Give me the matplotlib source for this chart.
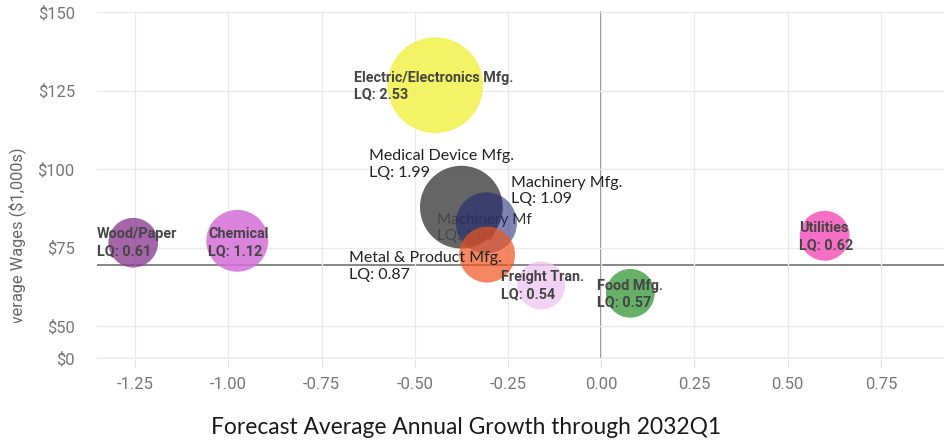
import matplotlib
matplotlib.use('Agg')
import matplotlib.pyplot as plt
from matplotlib.patches import Rectangle

# Data
industries = ['Wood/Paper', 'Chemical', 'Electric/Electronics Mfg.', 'Medical Device Mfg.',
              'Machinery Mfg.', 'Metal & Product Mfg.', 'Freight Tran.', 'Food Mfg.', 'Utilities']
growth = [-1.255, -0.976, -0.445, -0.375, -0.308, -0.306, -0.161, 0.078, 0.599]
wages = [76.6, 77.2, 126.7, 87.9, 82.9, 72.8, 63.0, 60.5, 78.8]
lq = [0.61, 1.12, 2.53, 1.99, 1.09, 0.87, 0.54, 0.57, 0.62]
avg_wage = 69.6

y_tick_values = [50, 75, 100, 125, 150]
x_tick_values = [-1.25, -1.00, -0.75, -0.50, -0.25, 0.00, 0.25, 0.50, 0.75]

# Styling
AXIS_BREAK_POS = 39.9  # where "$0" sits on the broken axis
colors = {
    'Wood/Paper': ('#8e3f94', 0.8),
    'Chemical': ('#d56fd9', 0.85),
    'Electric/Electronics Mfg.': ('#f2f24a', 0.85),
    'Medical Device Mfg.': ('#4a4a4a', 0.85),
    'Machinery Mfg.': ('#1a2070', 0.55),
    'Metal & Product Mfg.': ('#f05520', 0.7),
    'Freight Tran.': ('#f0c8f0', 0.8),
    'Food Mfg.': ('#4ca24c', 0.85),
    'Utilities': ('#f55ec0', 0.9),
}
# label offsets in pixels from bubble centre, and which font style
label_style = {
    'Wood/Paper': (-36, 0, 'bold'),
    'Chemical': (-29, -2, 'bold'),
    'Electric/Electronics Mfg.': (-81, -1, 'bold'),
    'Medical Device Mfg.': (-92, 43, 'plain'),
    'Machinery Mfg.': (25, 32, 'plain'),
    'Metal & Product Mfg.': (-138, -12, 'plain'),
    'Freight Tran.': (-40, 0, 'bold'),
    'Food Mfg.': (-33, -1, 'bold'),
    'Utilities': (-26, -1, 'bold'),
}

W, H = 944, 442
fig = plt.figure(figsize=(W / 100, H / 100), dpi=100)
ax = fig.add_axes([97 / W, 83 / H, 847 / W, 348 / H])

ax.set_xlim(-1.352, 0.919)
ax.set_ylim(AXIS_BREAK_POS - 0.3, 150.3)

for s in ax.spines.values():
    s.set_visible(False)

ax.set_xticks(x_tick_values)
ax.set_xticklabels([f'{v:.2f}' for v in x_tick_values])
ax.set_yticks([AXIS_BREAK_POS] + y_tick_values)
ax.set_yticklabels(['$0'] + [f'${v}' for v in y_tick_values])
ax.grid(True, color='#ebebeb', lw=1, zorder=0)
ax.tick_params(axis='x', length=6, color='#e0e0e0', pad=7)
ax.tick_params(axis='y', length=0, pad=16)
for lbl in ax.get_xticklabels() + ax.get_yticklabels():
    lbl.set_fontfamily('Roboto')
    lbl.set_fontsize(12)
    lbl.set_color('#777777')

ax.axhline(AXIS_BREAK_POS, color='#d0d0d0', lw=1, zorder=1)
ax.axvline(0, color='#666666', lw=1.1, zorder=1)
ax.axhline(avg_wage, color='#666666', lw=1.1, zorder=1)

# hidden label of machinery, sits under the bubbles
ax.annotate('Machinery Mf\nLQ: 1.09', (growth[4], wages[4]), xytext=(-49, -5),
            textcoords='offset pixels', ha='left', va='center', fontsize=11,
            family='Lato', color='#333333', zorder=2, linespacing=1.25)

for i, name in enumerate(industries):
    col, a = colors[name]
    r = 17.5 + 12 * lq[i]  # radius in px
    ax.scatter(growth[i], wages[i], s=(2 * r * 0.72) ** 2, color=col, alpha=a,
               edgecolors='none', zorder=3 + i)

for i, name in enumerate(industries):
    dx, dy, style = label_style[name]
    text = f'{name}\nLQ: {lq[i]:.2f}'
    if style == 'bold':
        ax.annotate(text, (growth[i], wages[i]), xytext=(dx, dy), textcoords='offset pixels',
                    ha='left', va='center', fontsize=10.4, family='Roboto', weight='bold',
                    color='#454545', zorder=20, linespacing=1.25)
    else:
        ax.annotate(text, (growth[i], wages[i]), xytext=(dx, dy), textcoords='offset pixels',
                    ha='left', va='center', fontsize=11.5, family='Lato',
                    color='#222222', zorder=20, linespacing=1.25)

fig.text(17 / W, 1 - 241 / H, 'Average Wages ($1,000s)', rotation=90, ha='center', va='center',
         family='Roboto', fontsize=11.8, color='#666666', zorder=1)
# the left edge of the original is cut where the axis break is
fig.patches.append(Rectangle((0, 0), 28 / W, 1 - 323 / H, transform=fig.transFigure,
                             facecolor='white', edgecolor='none', zorder=10))

fig.text(466 / W, 14 / H, 'Forecast Average Annual Growth through 2032Q1', ha='center',
         va='center', family='Lato', fontsize=16.4, color='#1a1a1a')

fig.savefig('out.png', dpi=100)
